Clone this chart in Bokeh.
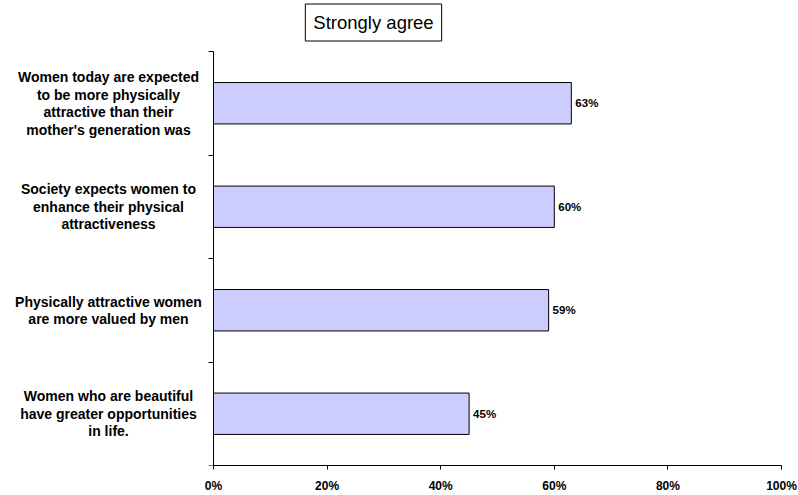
from bokeh.plotting import figure
from bokeh.models import Range1d, FixedTicker, NumeralTickFormatter, Label, ColumnDataSource
from bokeh.core.properties import value
from bokeh.embed import file_html
from bokeh.resources import INLINE

categories = [
    "Women today are expected\nto be more physically\nattractive than their\nmother's generation was",
    "Society expects women to\nenhance their physical\nattractiveness",
    "Physically attractive women\nare more valued by men",
    "Women who are beautiful\nhave greater opportunities\nin life.",
]
values = [0.63, 0.60, 0.59, 0.45]
value_labels = ["63%", "60%", "59%", "45%"]
x_ticks = [0, 0.2, 0.4, 0.6, 0.8, 1.0]
title_text = "Strongly agree"

n = len(categories)
ycent = [n - i - 0.5 for i in range(n)]

FONT = "Liberation Sans"

# layout (pixels)
AX_LEFT = 213      # canvas x of the value axis origin
FRAME_RIGHT = 781
AX_TOP = 51
FRAME_BOTTOM = 465
LINE_H = 17.5
px_per_x = FRAME_RIGHT - AX_LEFT
px_per_cat = (FRAME_BOTTOM - AX_TOP) / n

p = figure(width=798, height=495, output_backend="svg", toolbar_location=None,
           x_range=Range1d(-AX_LEFT / px_per_x, 1),
           y_range=Range1d(0, n + AX_TOP / px_per_cat),
           y_axis_location="right",
           min_border_left=0, min_border_right=798 - FRAME_RIGHT,
           min_border_top=0, min_border_bottom=495 - FRAME_BOTTOM)
p.outline_line_color = None
p.xgrid.visible = False
p.ygrid.visible = False
p.background_fill_color = "white"
p.border_fill_color = "white"

src = ColumnDataSource(dict(y=ycent, right=values, lab=value_labels))
p.hbar(y="y", left=0, right="right", height=0.4, source=src,
       fill_color="#CCCCFF", line_color="black", line_width=1)
p.text(x="right", y="y", text="lab", source=src, x_offset=4,
       text_align="left", text_baseline="middle",
       text_font=value(FONT), text_font_style="bold", text_font_size="11.5px",
       text_color="black")

# category labels, each line centred on its own
ly, ltxt, loff = [], [], []
for cat, yc in zip(categories, ycent):
    lines = cat.split("\n")
    m = len(lines)
    for k, ln in enumerate(lines):
        ly.append(yc)
        ltxt.append(ln)
        loff.append((k - (m - 1) / 2) * LINE_H)
cat_src = ColumnDataSource(dict(y=ly, t=ltxt, off=loff))
p.text(x=0, y="y", text="t", source=cat_src, x_offset=-105, y_offset="off",
       text_align="center", text_baseline="middle",
       text_font=value(FONT), text_font_style="bold", text_font_size="14px",
       text_color="black")

xa = p.xaxis[0]
xa.ticker = FixedTicker(ticks=x_ticks)
xa.formatter = NumeralTickFormatter(format="0%")
xa.bounds = (0, 1)
xa.major_tick_out = 4
xa.major_tick_in = 0
xa.minor_tick_line_color = None
xa.major_label_standoff = 9
xa.major_label_text_font = FONT
xa.major_label_text_font_style = "bold"
xa.major_label_text_font_size = "12px"
xa.major_label_text_color = "black"
xa.axis_line_color = "black"
xa.major_tick_line_color = "black"

ya = p.yaxis[0]
ya.fixed_location = 0
ya.bounds = (0, n)
ya.ticker = FixedTicker(ticks=list(range(n + 1)))
ya.major_tick_out = 0
ya.major_tick_in = 5
ya.minor_tick_line_color = None
ya.major_label_text_font_size = "0px"
ya.major_label_text_color = None
ya.major_label_standoff = 0
ya.axis_line_color = "black"
ya.major_tick_line_color = "black"

p.add_layout(Label(x=373, y=FRAME_BOTTOM - 22, x_units="screen", y_units="screen", text=title_text,
                   text_align="center", text_baseline="middle",
                   text_font=FONT, text_font_size="18.5px", text_color="black",
                   border_line_color="black", border_line_width=1,
                   background_fill_color="white", padding=8))

open("out.html", "w").write(file_html(p, INLINE))
